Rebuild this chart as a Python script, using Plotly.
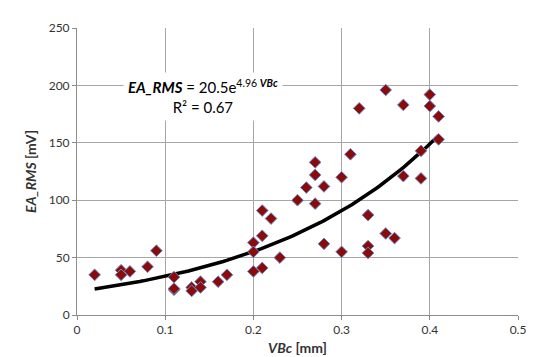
import numpy as np
import plotly.graph_objects as go

vbc = [0.02, 0.05, 0.05, 0.06, 0.08, 0.09, 0.11, 0.11, 0.11, 0.13, 0.13, 0.14, 0.14,
       0.16, 0.17, 0.20, 0.20, 0.20, 0.21, 0.21, 0.21, 0.22, 0.23, 0.25, 0.26, 0.27,
       0.27, 0.27, 0.28, 0.28, 0.30, 0.30, 0.31, 0.32, 0.33, 0.33, 0.33, 0.35, 0.35,
       0.36, 0.37, 0.37, 0.39, 0.39, 0.40, 0.40, 0.41, 0.41]
ea_rms = [35, 39, 35, 38, 42, 56, 33, 22, 23, 24, 21, 29, 24,
          29, 35, 63, 55, 38, 91, 69, 41, 84, 50, 100, 111, 133,
          122, 97, 112, 62, 120, 55, 140, 180, 87, 60, 54, 196, 71,
          67, 183, 121, 143, 119, 192, 182, 173, 153]

fit_a = 20.5
fit_b = 4.96
r2 = 0.67
x_ticks = [0, 0.1, 0.2, 0.3, 0.4, 0.5]
y_ticks = [0, 50, 100, 150, 200, 250]

xs = np.linspace(min(vbc), max(vbc), 100)
ys = fit_a * np.exp(fit_b * xs)

FONT = "Lato, 'Open Sans', sans-serif"
fig = go.Figure()
fig.add_trace(go.Scatter(x=xs, y=ys, mode="lines",
                         line=dict(color="black", width=3.5), hoverinfo="skip"))
fig.add_trace(go.Scatter(x=vbc, y=ea_rms, mode="markers",
                         marker=dict(symbol="diamond", size=9, color="#8B0A0A",
                                     line=dict(color="#6A8FC8", width=1))))

fig.add_annotation(x=0.143, y=190, xref="x", yref="y",
                   text="<b><i>EA_RMS</i></b> = %.1fe<sup>%.2f <b><i>VBc</i></b></sup><br>R² = %.2f" % (fit_a, fit_b, r2),
                   showarrow=False, bgcolor="white", align="center", borderpad=4,
                   font=dict(family=FONT, size=15, color="black"), yanchor="middle")

axis_common = dict(showgrid=True, gridcolor="#A6A6A6", gridwidth=1,
                   showline=True, linecolor="#8C8C8C", linewidth=1,
                   ticks="outside", ticklen=4, tickcolor="#8C8C8C",
                   tickfont=dict(family=FONT, size=12, color="#333"), zeroline=False)
fig.update_xaxes(range=[0, 0.5], tickvals=x_ticks, ticktext=[str(v) for v in x_ticks],
                 title=dict(text="<b><i>VBc</i> [mm]</b>", font=dict(family=FONT, size=14, color="#333"), standoff=6),
                 **axis_common)
fig.update_yaxes(range=[0, 250], tickvals=y_ticks,
                 title=dict(text="<b><i>EA_RMS</i> [mV]</b>", font=dict(family=FONT, size=14, color="#333"), standoff=8),
                 **axis_common)
fig.update_layout(width=542, height=357, showlegend=False,
                  margin=dict(l=69, r=32, t=12, b=47),
                  plot_bgcolor="white", paper_bgcolor="white")
fig.write_html("out.html")
